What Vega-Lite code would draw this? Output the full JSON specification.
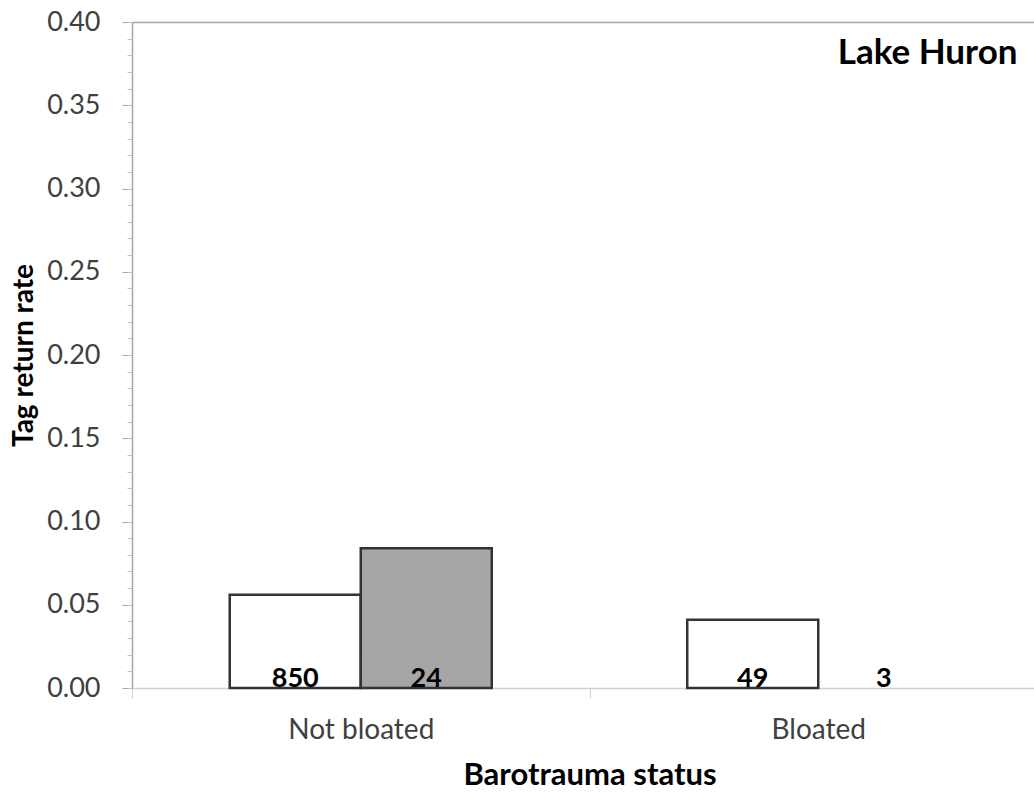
{
  "$schema": "https://vega.github.io/schema/vega-lite/v6.json",
  "width": 902,
  "height": 666,
  "autosize": {"type": "none"},
  "padding": {"left": 132, "top": 22, "right": 0, "bottom": 104},
  "background": "white",
  "config": {
    "font": "Lato",
    "view": {"stroke": null}
  },
  "title": {
    "text": "Lake Huron",
    "anchor": "end",
    "orient": "top",
    "offset": -91,
    "dx": -30,
    "baseline": "alphabetic",
    "font": "Lato",
    "fontSize": 35,
    "fontWeight": "bold",
    "color": "#000000"
  },
  "data": {
    "values": [
      {"status": "Not bloated", "group": "A", "rate": 0.056, "n": 850},
      {"status": "Not bloated", "group": "B", "rate": 0.084, "n": 24},
      {"status": "Bloated", "group": "A", "rate": 0.041, "n": 49},
      {"status": "Bloated", "group": "B", "rate": 0.0, "n": 3}
    ]
  },
  "resolve": {"axis": {"x": "independent", "y": "independent"}},
  "layer": [
    {
      "mark": {"type": "bar", "stroke": "#333333", "strokeWidth": 2.5},
      "encoding": {
        "x": {
          "field": "status",
          "type": "nominal",
          "sort": ["Not bloated", "Bloated"],
          "scale": {"range": [0, 915], "paddingInner": 0, "paddingOuter": 0},
          "axis": {
            "orient": "bottom",
            "labelAngle": 0,
            "labelFontSize": 28,
            "labelColor": "#404040",
            "labelPadding": 18,
            "tickBand": "extent",
            "tickSize": 10,
            "tickColor": "#d0d0d0",
            "domainColor": "#d0d0d0",
            "domainWidth": 1.5,
            "grid": false,
            "title": "Barotrauma status",
            "titleFontSize": 31,
            "titleFontWeight": "bold",
            "titleColor": "#000000",
            "titlePadding": 16
          }
        },
        "xOffset": {
          "field": "group",
          "type": "nominal",
          "sort": ["A", "B"],
          "scale": {"paddingInner": 0, "paddingOuter": 0.746}
        },
        "y": {
          "field": "rate",
          "type": "quantitative",
          "scale": {"domain": [0, 0.4], "nice": false},
          "axis": {
            "orient": "left",
            "values": [0, 0.05, 0.1, 0.15, 0.2, 0.25, 0.3, 0.35, 0.4],
            "format": ".2f",
            "labelFontSize": 27,
            "labelColor": "#404040",
            "labelPadding": 22,
            "tickSize": 10,
            "tickColor": "#a6a6a6",
            "domainColor": "#a6a6a6",
            "domainWidth": 1.5,
            "grid": false,
            "title": "Tag return rate",
            "titleFontSize": 28,
            "titleFontWeight": "bold",
            "titleColor": "#000000",
            "titlePadding": 8
          }
        },
        "fill": {
          "field": "group",
          "type": "nominal",
          "scale": {"domain": ["A", "B"], "range": ["#ffffff", "#a6a6a6"]},
          "legend": null
        },
        "strokeOpacity": {
          "condition": {"test": "datum.rate == 0", "value": 0},
          "value": 1
        }
      }
    },
    {
      "mark": {
        "type": "text",
        "fontWeight": "bold",
        "fontSize": 27,
        "baseline": "alphabetic",
        "dy": -1,
        "color": "#000000"
      },
      "encoding": {
        "x": {
          "field": "status",
          "type": "nominal",
          "sort": ["Not bloated", "Bloated"],
          "axis": {
            "orient": "top",
            "labels": false,
            "ticks": false,
            "grid": false,
            "domainColor": "#a6a6a6",
            "domainWidth": 1.5,
            "title": null
          }
        },
        "xOffset": {
          "field": "group",
          "type": "nominal",
          "sort": ["A", "B"]
        },
        "y": {
          "datum": 0,
          "type": "quantitative",
          "axis": {
            "orient": "left",
            "values": [0, 0.01, 0.02, 0.03, 0.04, 0.05, 0.06, 0.07, 0.08, 0.09, 0.1, 0.11, 0.12, 0.13, 0.14, 0.15, 0.16, 0.17, 0.18, 0.19, 0.2, 0.21, 0.22, 0.23, 0.24, 0.25, 0.26, 0.27, 0.28, 0.29, 0.3, 0.31, 0.32, 0.33, 0.34, 0.35, 0.36, 0.37, 0.38, 0.39, 0.4],
            "labels": false,
            "domain": false,
            "grid": false,
            "tickSize": 5,
            "tickColor": "#bfbfbf",
            "title": null
          }
        },
        "text": {"field": "n", "type": "quantitative"}
      }
    }
  ]
}
